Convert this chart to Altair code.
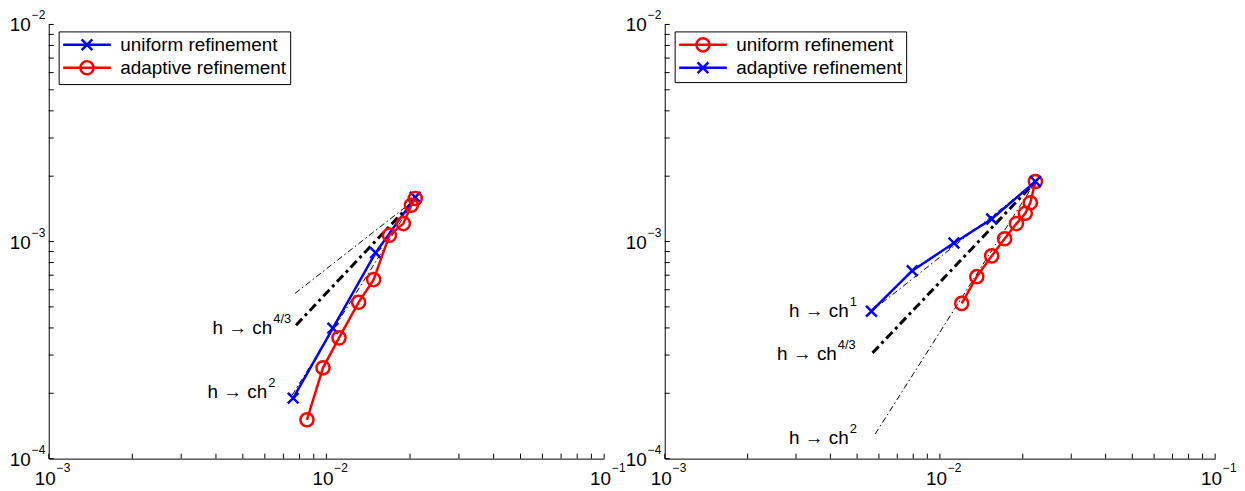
import altair as alt
import pandas as pd

FONT = "Liberation Sans"

# ---------------- data ----------------
SERIES = ["uniform refinement", "adaptive refinement"]

# left panel
L_UNIFORM_H = [0.00759, 0.01055, 0.01503, 0.02089]
L_UNIFORM_E = [1.90e-4, 3.99e-4, 8.87e-4, 1.60e-3]
L_ADAPT_H = [0.00851, 0.00972, 0.01110, 0.01306, 0.01479, 0.01687, 0.01892, 0.02022, 0.02089]
L_ADAPT_E = [1.51e-4, 2.62e-4, 3.60e-4, 5.25e-4, 6.68e-4, 1.07e-3, 1.21e-3, 1.47e-3, 1.58e-3]

L_REF_RATES = ["1", "4/3", "2"]
L_REF_H = [[0.00771, 0.0207], [0.00777, 0.0207], [0.00752, 0.0207]]
L_REF_E = [[5.77e-4, 1.55e-3], [4.12e-4, 1.55e-3], [1.96e-4, 1.55e-3]]

L_LABEL_RATES = ["4/3", "2"]
L_LABEL_H = [0.00638, 0.00612]
L_LABEL_E = [3.99e-4, 2.02e-4]

# right panel
R_UNIFORM_H = [0.01200, 0.01361, 0.01542, 0.01718, 0.01897, 0.02043, 0.02131, 0.02223]
R_UNIFORM_E = [5.19e-4, 6.89e-4, 8.59e-4, 1.03e-3, 1.21e-3, 1.35e-3, 1.51e-3, 1.89e-3]
R_ADAPT_H = [0.00564, 0.00793, 0.01124, 0.01542, 0.02223]
R_ADAPT_E = [4.78e-4, 7.34e-4, 9.84e-4, 1.27e-3, 1.89e-3]

R_REF_RATES = ["1", "4/3", "2"]
R_REF_H = [[0.00564, 0.0222], [0.00569, 0.0222], [0.00582, 0.0222]]
R_REF_E = [[4.78e-4, 1.88e-3], [3.07e-4, 1.88e-3], [1.30e-4, 1.88e-3]]

R_LABEL_RATES = ["1", "4/3", "2"]
R_LABEL_H = [0.00466, 0.00422, 0.00466]
R_LABEL_E = [4.78e-4, 3.04e-4, 1.25e-4]

# axes
X_DOMAIN = [1e-3, 1e-1]
Y_DOMAIN = [1e-4, 1e-2]
MULT = [1, 2, 3, 4, 5, 6, 7, 8, 9]
X_DECADES = [1e-3, 1e-2]
Y_DECADES = [1e-4, 1e-3]
X_LABEL_VALUES = [1e-3, 1e-2, 1e-1]
X_LABEL_SUPS = ["\u22123", "\u22122", "\u22121"]
Y_LABEL_VALUES = [1e-4, 1e-3, 1e-2]
Y_LABEL_SUPS = ["\u22124", "\u22123", "\u22122"]

# ---------------- styles ----------------
BLUE = "#0000ff"
RED = "#ff0000"
X_PATH = "M-0.9,-0.9L0.9,0.9M-0.9,0.9L0.9,-0.9"
O_PATH = "M1.1,0A1.1,1.1,0,1,1,-1.1,0A1.1,1.1,0,1,1,1.1,0"
XL_PATH = "M-4,0L4,0" + X_PATH
OL_PATH = "M-4,0L4,0" + O_PATH
REF_STYLE = {"1": (1.0, [6, 3, 1.5, 3]), "4/3": (3.0, [9, 4, 3, 4]), "2": (1.0, [6, 3, 1.5, 3])}
H = 437


def panel(W, series, ref_rates, ref_h, ref_e, lab_rates, lab_h, lab_e):
    xs = alt.Scale(type="log", domain=X_DOMAIN, nice=False)
    ys = alt.Scale(type="log", domain=Y_DOMAIN, nice=False)

    def X():
        return alt.X("h:Q", scale=xs, title=None)

    def Y():
        return alt.Y("e:Q", scale=ys, title=None)

    x_ticks = [m * d for d in X_DECADES for m in MULT] + [X_DOMAIN[1]]
    y_ticks = [m * d for d in Y_DECADES for m in MULT] + [Y_DOMAIN[1]]
    xt = pd.DataFrame({"h": x_ticks})
    yt = pd.DataFrame({"e": y_ticks})
    xl = pd.DataFrame({"h": X_LABEL_VALUES, "base": ["10"] * 3, "sup": X_LABEL_SUPS})
    yl = pd.DataFrame({"e": Y_LABEL_VALUES, "base": ["10"] * 3, "sup": Y_LABEL_SUPS})

    layers = [
        alt.Chart(xt).mark_rule(color="black", strokeWidth=1).encode(
            x=X(), y=alt.value(H), y2=alt.value(H - 5)),
        alt.Chart(yt).mark_rule(color="black", strokeWidth=1).encode(
            y=Y(), x=alt.value(0), x2=alt.value(5)),
        alt.Chart(xl).mark_text(align="right", baseline="alphabetic", dx=7,
                                fontSize=19, font=FONT, color="black").encode(
            x=X(), y=alt.value(H + 27), text="base:N"),
        alt.Chart(xl).mark_text(align="left", baseline="alphabetic", dx=8,
                                fontSize=12, font=FONT, color="black").encode(
            x=X(), y=alt.value(H + 13), text="sup:N"),
        alt.Chart(yl).mark_text(align="right", baseline="alphabetic", dy=7,
                                fontSize=19, font=FONT, color="black").encode(
            y=Y(), x=alt.value(-18), text="base:N"),
        alt.Chart(yl).mark_text(align="left", baseline="alphabetic", dy=-5,
                                fontSize=12, font=FONT, color="black").encode(
            y=Y(), x=alt.value(-17), text="sup:N"),
    ]

    for rate, hh, ee in zip(ref_rates, ref_h, ref_e):
        w, dash = REF_STYLE[rate]
        df = pd.DataFrame({"h": hh, "e": ee})
        layers.append(alt.Chart(df).mark_line(color="black", strokeWidth=w,
                                              strokeDash=dash).encode(x=X(), y=Y()))

    all_rows = []
    for name, hh, ee, col, mpath, lpath in series:
        df = pd.DataFrame({"h": hh, "e": ee, "i": list(range(len(hh)))})
        layers.append(alt.Chart(df).mark_line(color=col, strokeWidth=2.5).encode(
            x=X(), y=Y(), order="i:Q"))
        layers.append(alt.Chart(df).mark_point(shape=mpath, size=144, strokeWidth=2.5,
                                               color=col, filled=False, opacity=1).encode(
            x=X(), y=Y()))
        all_rows.append(pd.DataFrame({"h": hh, "e": ee, "series": name}))

    order = SERIES
    colors = [dict((s[0], s[3]) for s in series)[n] for n in order]
    lpaths = [dict((s[0], s[5]) for s in series)[n] for n in order]
    leg = dict(orient="none", legendX=10, legendY=7, strokeColor="black",
               fillColor="white", padding=4, symbolSize=144, symbolStrokeWidth=2.5,
               symbolOpacity=1, symbolOffset=15, labelOffset=24, labelFont=FONT,
               labelFontSize=19, labelColor="black", labelLimit=400, rowPadding=0)
    legdf = pd.concat(all_rows)
    layers.append(alt.Chart(legdf).mark_point(opacity=0, filled=False).encode(
        x=X(), y=Y(),
        color=alt.Color("series:N", scale=alt.Scale(domain=order, range=colors),
                        title=None, legend=alt.Legend(**leg)),
        shape=alt.Shape("series:N", scale=alt.Scale(domain=order, range=lpaths),
                        title=None, legend=alt.Legend(**leg)),
    ))

    labdf = pd.DataFrame({"h": lab_h, "e": lab_e, "main": ["h \u2192 ch"] * len(lab_h),
                          "sup": lab_rates})
    layers.append(alt.Chart(labdf).mark_text(align="right", baseline="middle",
                                             fontSize=19, font=FONT, color="black").encode(
        x=X(), y=Y(), text="main:N"))
    layers.append(alt.Chart(labdf).mark_text(align="left", baseline="middle", dx=1, dy=-9,
                                             fontSize=13, font=FONT, color="black").encode(
        x=X(), y=Y(), text="sup:N"))

    return alt.layer(*layers).properties(width=W, height=H)


left = panel(
    559,
    [("uniform refinement", L_UNIFORM_H, L_UNIFORM_E, BLUE, X_PATH, XL_PATH),
     ("adaptive refinement", L_ADAPT_H, L_ADAPT_E, RED, O_PATH, OL_PATH)],
    L_REF_RATES, L_REF_H, L_REF_E, L_LABEL_RATES, L_LABEL_H, L_LABEL_E)

right = panel(
    554,
    [("uniform refinement", R_UNIFORM_H, R_UNIFORM_E, RED, O_PATH, OL_PATH),
     ("adaptive refinement", R_ADAPT_H, R_ADAPT_E, BLUE, X_PATH, XL_PATH)],
    R_REF_RATES, R_REF_H, R_REF_E, R_LABEL_RATES, R_LABEL_H, R_LABEL_E)

chart = alt.hconcat(left, right, spacing=61, bounds="flush").resolve_scale(
    color="independent", shape="independent"
).properties(
    padding={"left": 1, "top": 0, "right": 0, "bottom": 0}
).configure_view(strokeWidth=0).configure_axis(
    labels=False, ticks=False, grid=False, domainColor="black", domainWidth=1
)

chart.save("out.html", embed_options={"renderer": "svg", "actions": False})
